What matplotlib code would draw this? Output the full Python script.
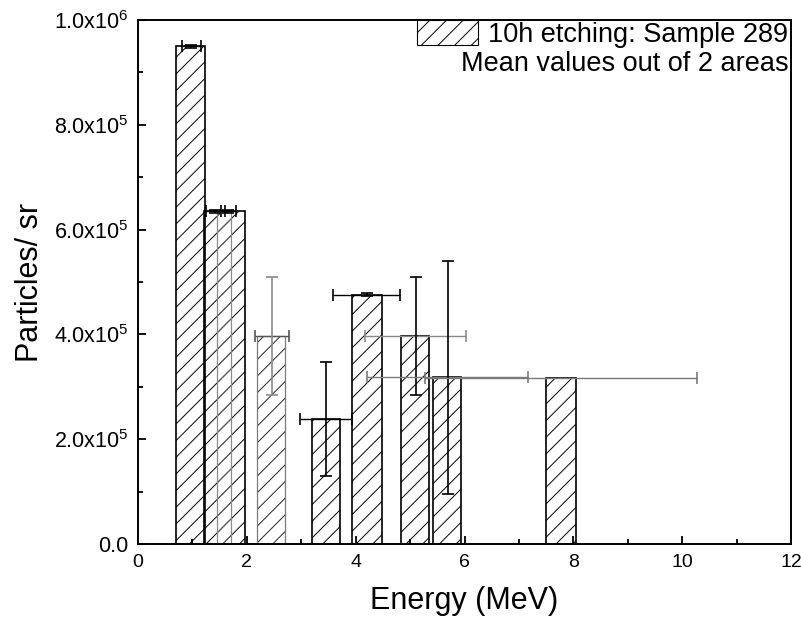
import matplotlib
matplotlib.use("Agg")
import matplotlib.pyplot as plt
import matplotlib.patches as mpatches
from matplotlib.ticker import MultipleLocator, FuncFormatter

plt.rcParams['font.family'] = ['Liberation Sans', 'DejaVu Sans']
plt.rcParams['mathtext.fontset'] = 'custom'
plt.rcParams['mathtext.rm'] = 'Liberation Sans'
plt.rcParams['mathtext.it'] = 'Liberation Sans'
plt.rcParams['mathtext.default'] = 'regular'
plt.rcParams['hatch.linewidth'] = 0.7

# Energy bins (MeV) and particle yields
bin_left = [0.70, 1.21, 1.45, 2.18, 3.19, 3.94, 4.83, 5.43, 7.50]
bin_right = [1.23, 1.96, 1.70, 2.70, 3.72, 4.48, 5.34, 5.93, 8.04]
particles = [0.950e6, 0.635e6, 0.635e6, 0.397e6, 0.238e6, 0.476e6, 0.397e6, 0.318e6, 0.317e6]

# Error bar centres and half-widths
err_energy = [0.98, 1.42, 1.66, 2.46, 3.46, 4.20, 5.10, 5.69, 7.78]
energy_err = [0.17, 0.17, 0.14, 0.31, 0.48, 0.62, 0.93, 1.48, 2.50]
particles_err = [0.003e6, 0.003e6, 0.003e6, 0.113e6, 0.109e6, 0.003e6, 0.113e6, 0.223e6, 0.0]

legend_label = "10h etching: Sample 289"
note_text = "Mean values out of 2 areas"

# per-bin drawing colours
edge_cols = ['black', 'black', '#8a8a8a', '#7a7a7a', 'black', 'black', 'black', 'black', 'black']
hatch_cols = ['black', 'black', '#666666', '#222222', 'black', 'black', 'black', 'black', 'black']
xerr_cols = ['black', 'black', 'black', '#555555', 'black', 'black', '#8a8a8a', '#7a7a7a', '#7a7a7a']
yerr_cols = ['black', 'black', 'black', '#8a8a8a', 'black', 'black', 'black', 'black', 'black']

fig = plt.figure(figsize=(8.01, 6.28), dpi=100)
ax = fig.add_axes([138/801, 1-544/628, (791-138)/801, (544-20)/628])

widths = [r - l for l, r in zip(bin_left, bin_right)]
for i in range(len(bin_left)):
    # hatch layer
    ax.bar(bin_left[i], particles[i], width=widths[i], align='edge',
           facecolor='none', edgecolor=hatch_cols[i], hatch='//',
           linewidth=0, zorder=2)
    # outline layer
    ax.bar(bin_left[i], particles[i], width=widths[i], align='edge',
           facecolor='none', edgecolor=edge_cols[i],
           linewidth=1.2 if edge_cols[i] == 'black' else 0.9, zorder=2)

for i in range(len(bin_left)):
    ax.errorbar(err_energy[i], particles[i], xerr=energy_err[i], fmt='none',
                ecolor=xerr_cols[i], elinewidth=1.0, capsize=4, capthick=1.2, zorder=3)
    if particles_err[i] > 0:
        ax.errorbar(err_energy[i], particles[i], yerr=particles_err[i], fmt='none',
                    ecolor=yerr_cols[i], elinewidth=1.2, capsize=4, capthick=1.2, zorder=3)

ax.set_xlim(0, 12)
ax.set_ylim(0, 1.0e6)
ax.xaxis.set_major_locator(MultipleLocator(2))
ax.xaxis.set_minor_locator(MultipleLocator(1))
ax.yaxis.set_major_locator(MultipleLocator(2e5))
ax.yaxis.set_minor_locator(MultipleLocator(1e5))


def sci_fmt(v, pos):
    if v == 0:
        return "0.0"
    exp = 0
    m = v
    while abs(m) >= 10:
        m /= 10
        exp += 1
    return f"{m:.1f}x10$^{{{exp}}}$"


ax.yaxis.set_major_formatter(FuncFormatter(sci_fmt))
ax.tick_params(which='both', direction='in', top=False, right=False, width=1.3)
ax.tick_params(which='major', length=6, pad=7)
ax.tick_params(axis='y', which='major', labelsize=15.5)
ax.tick_params(axis='x', which='major', labelsize=14)
ax.tick_params(which='minor', length=3.5)
for s in ax.spines.values():
    s.set_linewidth(1.4)

ax.set_xlabel("Energy (MeV)", fontsize=22, labelpad=11)
ax.set_ylabel("Particles/ sr", fontsize=22, labelpad=6)

handle = mpatches.Patch(facecolor='none', edgecolor='black', hatch='//', linewidth=0.8)
fs = 19.5
fpx = fs * 100 / 72
fig.legend(handles=[handle], labels=[legend_label], loc='upper left',
           bbox_to_anchor=(417/801, 1-20/628), frameon=False, borderpad=0,
           borderaxespad=0, handlelength=61/fpx, handleheight=29/fpx,
           handletextpad=10/fpx, fontsize=fs)
fig.text(789/801, 1-64/628, note_text, ha='right', va='center', fontsize=fs)

fig.savefig("out.png", dpi=100)
